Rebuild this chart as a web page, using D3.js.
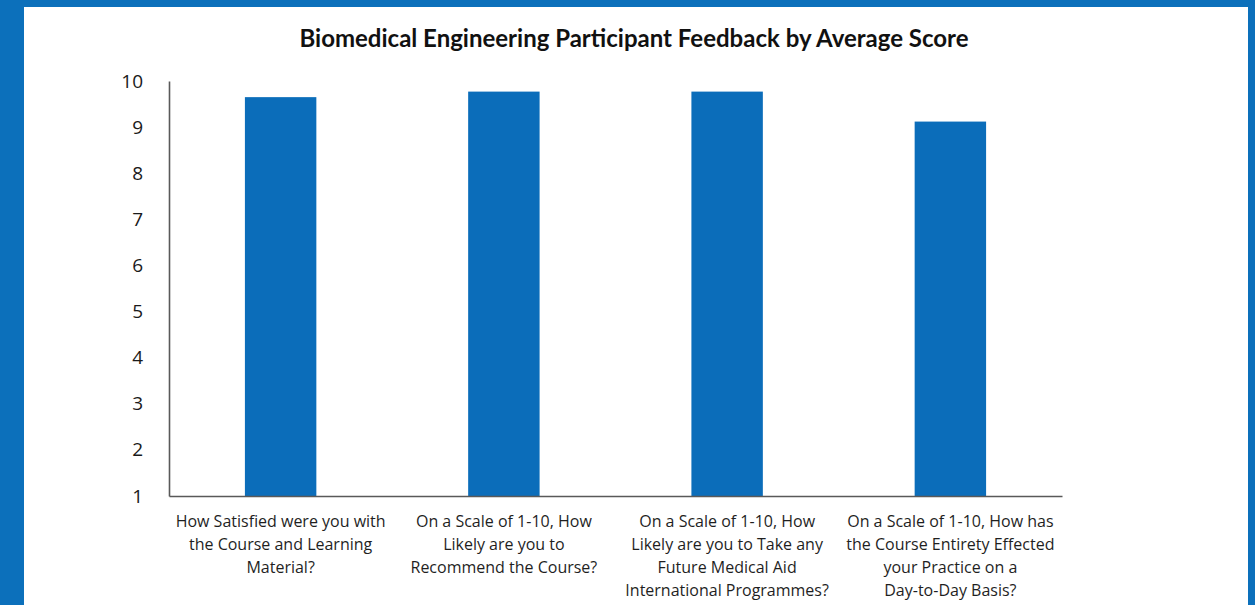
<!DOCTYPE html>
<html>
<head>
<meta charset="utf-8">
<script src="https://cdn.jsdelivr.net/npm/d3@7"></script>
<style>
  html, body { margin: 0; padding: 0; background: #0c70bb; }
  svg { display: block; }
</style>
</head>
<body>
<svg id="chart" width="1255" height="605"></svg>
<script>
const categories = [
  ["How Satisfied were you with", "the Course and Learning", "Material?"],
  ["On a Scale of 1-10, How", "Likely are you to", "Recommend the Course?"],
  ["On a Scale of 1-10, How", "Likely are you to Take any", "Future Medical Aid", "International Programmes?"],
  ["On a Scale of 1-10, How has", "the Course Entirety Effected", "your Practice on a", "Day-to-Day Basis?"]
];
const values = [9.65, 9.77, 9.77, 9.12];
const yTicks = [1, 2, 3, 4, 5, 6, 7, 8, 9, 10];
const title = "Biomedical Engineering Participant Feedback by Average Score";

const svg = d3.select("#chart");
const W = 1255, H = 605;
const titleFont = "Lato, 'Open Sans', sans-serif";
const font = "'Open Sans', Lato, sans-serif";

// frame
svg.append("rect").attr("x", 0).attr("y", 0).attr("width", W).attr("height", H).attr("fill", "#0c70bb");
svg.append("rect").attr("x", 24).attr("y", 7).attr("width", 1248 - 24).attr("height", H - 7).attr("fill", "#ffffff");

const m = { left: 169, right: 1062, top: 81, bottom: 496 };
const idx = categories.map((d, i) => i);

const x = d3.scaleBand().domain(idx).range([m.left, m.right]).paddingInner(0.68).paddingOuter(0.34);
const y = d3.scaleLinear().domain([1, 10]).range([m.bottom, m.top]);

// title
svg.append("text")
  .attr("x", 634).attr("y", 47)
  .attr("text-anchor", "middle")
  .attr("font-family", titleFont).attr("font-weight", "bold").attr("font-size", 24)
  .attr("fill", "#111")
  .text(title);

// bars
svg.append("g").selectAll("rect").data(values).join("rect")
  .attr("x", (d, i) => x(i))
  .attr("width", x.bandwidth())
  .attr("y", d => y(d))
  .attr("height", d => y(1) - y(d))
  .attr("fill", "#0b6dba");

// y axis
const yAxis = d3.axisLeft(y).tickValues(yTicks).tickSize(0).tickPadding(26).tickFormat(d3.format("d"));
const gy = svg.append("g").attr("transform", `translate(${m.left},0)`).call(yAxis);
gy.select(".domain").attr("stroke", "#595959").attr("stroke-width", 1.6);
gy.selectAll("text").attr("font-family", font).attr("font-size", 19).attr("fill", "#1a1a1a");

// x axis
const xAxis = d3.axisBottom(x).tickSize(0).tickFormat("");
const gx = svg.append("g").attr("transform", `translate(0,${m.bottom})`).call(xAxis);
gx.select(".domain").attr("stroke", "#595959").attr("stroke-width", 1.6);

// category labels
const lab = svg.append("g");
categories.forEach((lines, i) => {
  const cx = x(i) + x.bandwidth() / 2;
  const t = lab.append("text")
    .attr("text-anchor", "middle")
    .attr("font-family", font).attr("font-size", 16)
    .attr("fill", "#1f1f1f");
  lines.forEach((ln, j) => {
    t.append("tspan").attr("x", cx).attr("y", 527 + j * 23).text(ln);
  });
});
</script>
</body>
</html>
